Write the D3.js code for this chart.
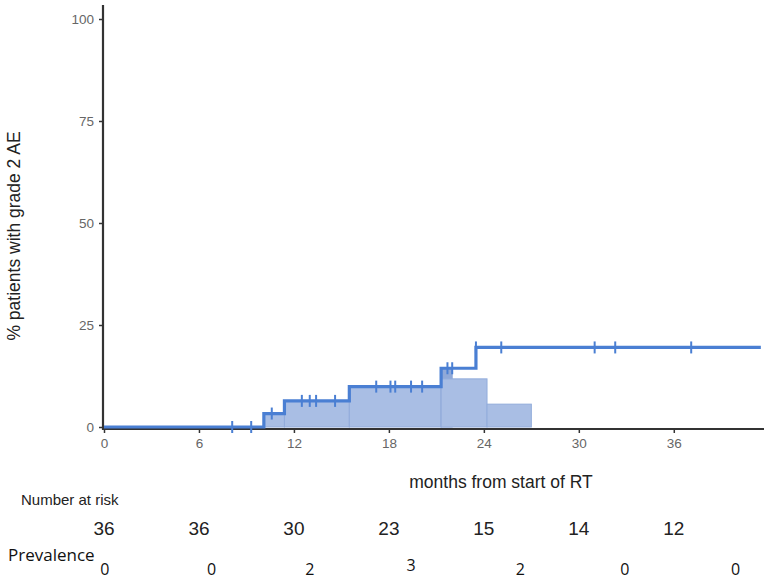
<!DOCTYPE html>
<html><head><meta charset="utf-8">
<script src="https://cdn.jsdelivr.net/npm/d3@7"></script>
<style>body{margin:0;background:#fff}svg{display:block}</style>
</head><body><div id="chart"></div>
<script>
// ---- data ----
const stepTimes  = [0, 10.1, 11.4, 15.5, 21.3, 23.5];
const stepValues = [0, 3.3, 6.4, 9.9, 14.4, 19.5];
const curveEnd = 41.5;
const censorTimes = [8.1, 9.3, 10.6, 12.5, 13.0, 13.4, 14.6, 17.2, 18.1, 18.4, 19.4, 20.1, 21.7, 22.0, 23.5, 25.1, 31.0, 32.3, 37.1];
const barStarts  = [10.1, 11.4, 15.5, 21.3, 21.3, 24.2];
const barEnds    = [11.4, 15.5, 21.3, 22.0, 24.2, 27.0];
const barHeights = [3.3, 6.4, 9.9, 14.4, 11.8, 5.6];
const xTicks = [0, 6, 12, 18, 24, 30, 36];
const yTicks = [0, 25, 50, 75, 100];
const atRisk = [36, 36, 30, 23, 15, 14, 12];
const prevalence = [0, 0, 2, 3, 2, 0, 0];
const prevalencePos = [0.05, 6.8, 13.0, 19.4, 26.3, 32.9, 39.9];

const W = 767, H = 580;
const svg = d3.select("#chart").append("svg").attr("width", W).attr("height", H);
const x = d3.scaleLinear().domain([0, 41.7]).range([104, 764]);
const y = d3.scaleLinear().domain([0, 100]).range([427, 19]);
const ARIAL = "'Liberation Sans', Arial, sans-serif";
const NARROW = "'Liberation Sans Narrow', 'Liberation Sans', Arial, sans-serif";
const CALIBRI = "'Open Sans', 'Noto Sans', sans-serif";

const valueAt = t => { let v = 0; stepTimes.forEach((s, i) => { if (t >= s) v = stepValues[i]; }); return v; };

// bars (prevalence areas)
const barColors = ["#a9bee4","#a9bee4","#a9bee4","#90a9d8","#a9bee4","#a9bee4"];
svg.append("g").selectAll("rect").data(barStarts).join("rect")
  .attr("x", (d, i) => x(d))
  .attr("width", (d, i) => x(barEnds[i]) - x(d))
  .attr("y", (d, i) => y(barHeights[i]))
  .attr("height", (d, i) => y(0) - y(barHeights[i]))
  .attr("fill", (d, i) => barColors[i])
  .attr("stroke", "#92acdb").attr("stroke-width", 1);

// axes
const yAxis = svg.append("g").attr("transform", "translate(103,0)")
  .call(d3.axisLeft(y).tickValues(yTicks).tickSize(4).tickPadding(5));
yAxis.select(".domain").remove();
yAxis.selectAll("line").attr("stroke", "#333").attr("stroke-width", 1.5);
yAxis.selectAll("text").attr("fill", "#666").style("font-family", ARIAL).style("font-size", "13.5px");
svg.append("line").attr("x1", 103).attr("x2", 103).attr("y1", 5).attr("y2", 430).attr("stroke", "#333").attr("stroke-width", 2.2);

const xAxis = svg.append("g").attr("transform", "translate(0,429)")
  .call(d3.axisBottom(x).tickValues(xTicks).tickSize(4).tickPadding(5));
xAxis.select(".domain").remove();
xAxis.selectAll("line").attr("stroke", "#333").attr("stroke-width", 1.5);
xAxis.selectAll("text").attr("fill", "#666").style("font-family", ARIAL).style("font-size", "13.5px");
svg.append("line").attr("x1", 102).attr("x2", 764).attr("y1", 429).attr("y2", 429).attr("stroke", "#333").attr("stroke-width", 2.2);

// step curve
const pts = stepTimes.map((t, i) => [t, stepValues[i]]).concat([[curveEnd, stepValues[stepValues.length - 1]]]);
const line = d3.line().x(d => x(d[0])).y(d => y(d[1])).curve(d3.curveStepAfter);
svg.append("path").attr("d", line(pts)).attr("fill", "none")
  .attr("stroke", "#4a7fd3").attr("stroke-width", 3.2);

// censor marks
svg.append("g").selectAll("line").data(censorTimes).join("line")
  .attr("x1", d => x(d)).attr("x2", d => x(d))
  .attr("y1", d => y(valueAt(d)) - 6).attr("y2", d => y(valueAt(d)) + 6)
  .attr("stroke", "#4a7fd3").attr("stroke-width", 2);

// titles
svg.append("text").attr("transform", "translate(20,236) rotate(-90)")
  .attr("text-anchor", "middle").attr("fill", "#222")
  .style("font-family", ARIAL).style("font-size", "17.5px")
  .text("% patients with grade 2 AE");
svg.append("text").attr("x", 501).attr("y", 488).attr("text-anchor", "middle").attr("fill", "#222")
  .style("font-family", ARIAL).style("font-size", "17.5px")
  .text("months from start of RT");

// number at risk
svg.append("text").attr("x", 21).attr("y", 505).attr("fill", "#222")
  .style("font-family", NARROW).style("font-size", "15px")
  .text("Number at risk");
svg.append("g").selectAll("text").data(atRisk).join("text")
  .attr("x", (d, i) => x(xTicks[i])).attr("y", 535).attr("text-anchor", "middle").attr("fill", "#222")
  .style("font-family", NARROW).style("font-size", "19px")
  .text(d => d);

// prevalence
svg.append("text").attr("x", 8).attr("y", 561).attr("fill", "#111")
  .style("font-family", CALIBRI).style("font-size", "17px")
  .text("Prevalence");
svg.append("g").selectAll("text").data(prevalence).join("text")
  .attr("x", (d, i) => x(prevalencePos[i])).attr("y", (d, i) => i === 3 ? 571 : 575).attr("text-anchor", "middle").attr("fill", "#111")
  .style("font-family", CALIBRI).style("font-size", "16px")
  .text(d => d);
</script></body></html>
